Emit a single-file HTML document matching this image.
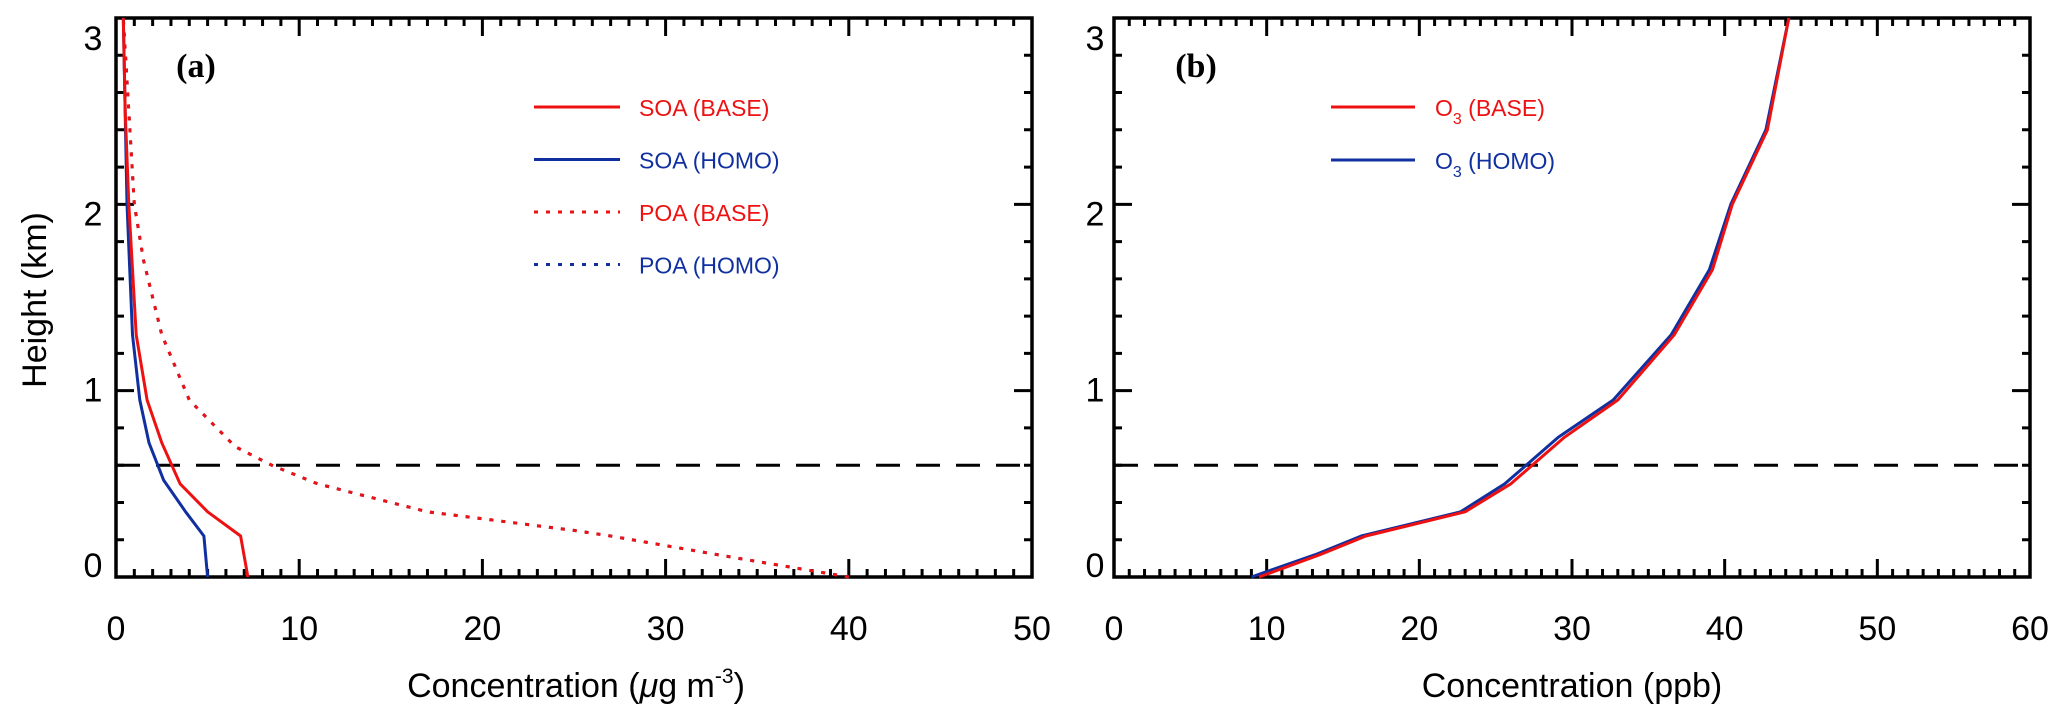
<!DOCTYPE html>
<html><head><meta charset="utf-8"><style>
html,body{margin:0;padding:0;background:#fff;}
svg{display:block;font-family:"Liberation Sans",sans-serif;}
</style></head><body>
<svg id="chart" width="2067" height="720" viewBox="0 0 2067 720" xmlns="http://www.w3.org/2000/svg"></svg>
<script>
// Panel (a) data: heights (km) and concentrations (ug m-3)
const soaBaseH = [0, 0.22, 0.35, 0.5, 0.72, 0.95, 1.3, 2.0, 2.5, 3.0];
const soaBaseX = [7.2, 6.8, 5.0, 3.5, 2.5, 1.7, 1.1, 0.7, 0.5, 0.4];
const soaHomoH = [0, 0.22, 0.35, 0.52, 0.72, 0.95, 1.3, 2.0, 3.0];
const soaHomoX = [5.0, 4.8, 3.8, 2.6, 1.8, 1.3, 0.9, 0.6, 0.4];
const poaBaseH = [0, 0.05, 0.1, 0.22, 0.25, 0.35, 0.5, 0.6, 0.7, 0.95, 1.3, 1.7, 2.0, 2.5, 3.0];
const poaBaseX = [40, 37, 34, 27, 25, 17, 11, 8.5, 6.5, 4, 2.5, 1.5, 1.0, 0.7, 0.4];
const poaHomoX = [40, 37, 34, 27, 25, 17, 11, 8.5, 6.5, 4, 2.5, 1.5, 1.0, 0.7, 0.4];
// Panel (b) data: O3 (ppb)
const o3H = [0, 0.12, 0.22, 0.35, 0.5, 0.75, 0.95, 1.3, 1.65, 2.0, 2.4, 3.0];
const o3BaseX = [9.5, 13.5, 16.5, 23, 26, 29.5, 33, 36.7, 39.2, 40.5, 42.8, 44.2];
const o3HomoX = [9.0, 13.2, 16.2, 22.7, 25.6, 29.1, 32.7, 36.5, 39.0, 40.4, 42.7, 44.2];
const pblH = 0.6;
const xTicksA = [0, 10, 20, 30, 40, 50];
const xTicksB = [0, 10, 20, 30, 40, 50, 60];
const yTicks = [0, 1, 2, 3];

const NS = "http://www.w3.org/2000/svg";
const svg = document.getElementById('chart');
function el(tag, attrs, parent) {
  const e = document.createElementNS(NS, tag);
  for (const k in attrs) e.setAttribute(k, attrs[k]);
  (parent || svg).appendChild(e);
  return e;
}
const TOP = 18, BOT = 577;
function makePanel(name, left, right, xmax) {
  const g = el('g', {});
  
  
  const xs = v => left + (v / xmax) * (right - left);
  const ys = h => BOT - (h / 3) * (BOT - TOP);
  let d = '';
  for (let v = 0; v <= xmax; v++) {
    const len = v % 10 === 0 ? 18 : 8, x = xs(v);
    d += `M${x},${BOT}v${-len}M${x},${TOP}v${len}`;
  }
  for (let i = 0; i <= 15; i++) {
    const len = i % 5 === 0 ? 18 : 8, y = ys(i * 0.2);
    d += `M${left},${y}h${len}M${right},${y}h${-len}`;
  }
  const t = el('path', {d: d, stroke: '#000', 'stroke-width': 3, fill: 'none'}, g);
  
  
  const f = el('rect', {x: left, y: TOP, width: right - left, height: BOT - TOP, fill: 'none', stroke: '#000', 'stroke-width': 3.5}, g);
  
  
  return {g, xs, ys};
}
function line(p, name, H, X, color, dash, w) {
  const pts = H.map((h, i) => p.xs(X[i]).toFixed(1) + ',' + p.ys(h).toFixed(1)).join(' ');
  const l = el('polyline', {points: pts, fill: 'none', stroke: color, 'stroke-width': w || 3, 'stroke-dasharray': dash || 'none', 'stroke-linejoin': 'round'}, p.g);
  
  
}
function txt(parent, name, x, y, s, attrs) {
  const t = el('text', Object.assign({x: x, y: y, 'font-size': 34, 'text-anchor': 'middle'}, attrs || {}), parent);
  t.textContent = s;
  
  
  return t;
}
const yLab = v => 38 + (3 - v) / 3 * (565 - 38) + 12;

// Panel a
const A = makePanel('panel-a', 116, 1032, 50);
const da = el('line', {x1: 116, x2: 1032, y1: A.ys(pblH), y2: A.ys(pblH), stroke: '#000', 'stroke-width': 3, 'stroke-dasharray': '24,16'}, A.g);


line(A, 'poa-homo-line', poaBaseH, poaHomoX, '#1030a0', '4,8');
line(A, 'poa-base-line', poaBaseH, poaBaseX, '#ee1111', '4,8');
line(A, 'soa-homo-line', soaHomoH, soaHomoX, '#1030a0');
line(A, 'soa-base-line', soaBaseH, soaBaseX, '#ee1111');
xTicksA.forEach(v => txt(A.g, 'x-tick-label', A.xs(v), 640, v));
yTicks.forEach(v => txt(A.g, 'y-tick-label', 93, yLab(v), v));
txt(A.g, 'panel-a-label', 196, 77, '(a)', {'font-family': '"Liberation Serif",serif', 'font-weight': 'bold', 'font-size': 34});
const xa = txt(A.g, 'x-axis-title-a', 576, 697, 'Concentration');
xa.innerHTML = 'Concentration (<tspan font-style="italic">μ</tspan>g m<tspan dy="-14" font-size="21">-3</tspan><tspan dy="14">)</tspan>';
txt(svg, 'y-axis-title', 0, 0, 'Height (km)', {transform: 'translate(46,300) rotate(-90)'});
const legA = [['SOA (BASE)', '#ee1111', 'none'], ['SOA (HOMO)', '#1030a0', 'none'], ['POA (BASE)', '#ee1111', '4,8'], ['POA (HOMO)', '#1030a0', '4,8']];
legA.forEach((L, i) => {
  const y = 107 + i * 52.5;
  const g = el('g', {}, A.g);
  
  
  el('line', {x1: 534, x2: 620, y1: y, y2: y, stroke: L[1], 'stroke-width': 3, 'stroke-dasharray': L[2]}, g);
  txt(g, 'legend-label', 639, y + 9, L[0], {'text-anchor': 'start', 'font-size': 23, fill: L[1]});
});

// Panel b
const B = makePanel('panel-b', 1114, 2030, 60);
const db = el('line', {x1: 1114, x2: 2030, y1: B.ys(pblH), y2: B.ys(pblH), stroke: '#000', 'stroke-width': 3, 'stroke-dasharray': '24,16'}, B.g);


line(B, 'o3-homo-line', o3H, o3HomoX, '#1030a0');
line(B, 'o3-base-line', o3H, o3BaseX, '#ee1111');
xTicksB.forEach(v => txt(B.g, 'x-tick-label', B.xs(v), 640, v));
yTicks.forEach(v => txt(B.g, 'y-tick-label', 1095, yLab(v), v));
txt(B.g, 'panel-b-label', 1196, 77, '(b)', {'font-family': '"Liberation Serif",serif', 'font-weight': 'bold', 'font-size': 34});
txt(B.g, 'x-axis-title-b', 1572, 697, 'Concentration (ppb)');
const legB = [['BASE', '#ee1111'], ['HOMO', '#1030a0']];
legB.forEach((L, i) => {
  const y = 107 + i * 53;
  const g = el('g', {}, B.g);
  
  
  el('line', {x1: 1331, x2: 1415, y1: y, y2: y, stroke: L[1], 'stroke-width': 3}, g);
  const t = txt(g, 'legend-label', 1435, y + 9, '', {'text-anchor': 'start', 'font-size': 23, fill: L[1]});
  t.innerHTML = 'O<tspan dy="8" font-size="16">3</tspan><tspan dy="-8"> (' + L[0] + ')</tspan>';
});
</script>
</body></html>
